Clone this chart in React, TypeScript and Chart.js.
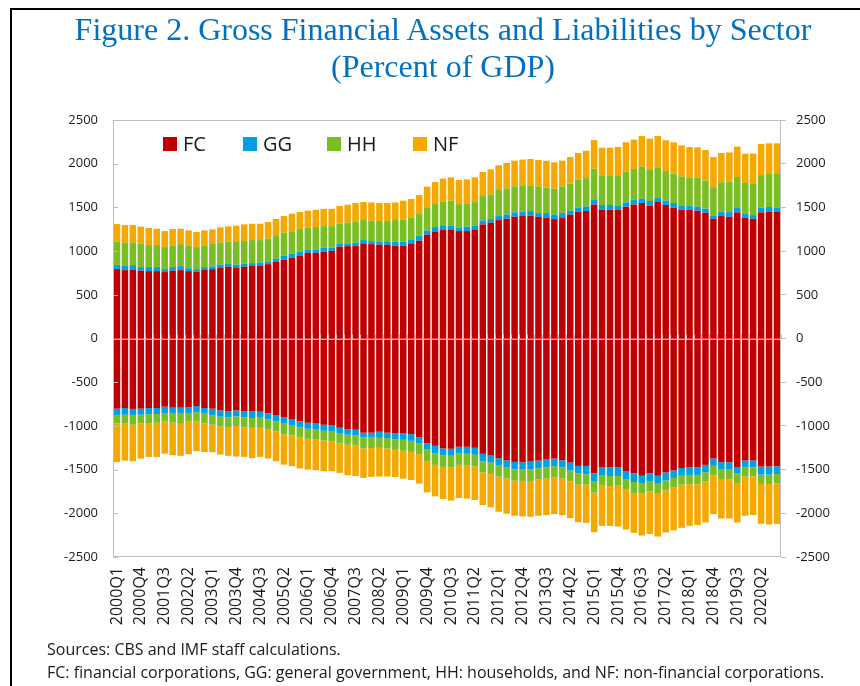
import React, { useEffect, useRef } from 'react';
import { Chart, registerables } from 'chart.js';

Chart.register(...registerables);

const quarters: string[] = [
  '2000Q1','2000Q2','2000Q3','2000Q4','2001Q1','2001Q2','2001Q3','2001Q4',
  '2002Q1','2002Q2','2002Q3','2002Q4','2003Q1','2003Q2','2003Q3','2003Q4',
  '2004Q1','2004Q2','2004Q3','2004Q4','2005Q1','2005Q2','2005Q3','2005Q4',
  '2006Q1','2006Q2','2006Q3','2006Q4','2007Q1','2007Q2','2007Q3','2007Q4',
  '2008Q1','2008Q2','2008Q3','2008Q4','2009Q1','2009Q2','2009Q3','2009Q4',
  '2010Q1','2010Q2','2010Q3','2010Q4','2011Q1','2011Q2','2011Q3','2011Q4',
  '2012Q1','2012Q2','2012Q3','2012Q4','2013Q1','2013Q2','2013Q3','2013Q4',
  '2014Q1','2014Q2','2014Q3','2014Q4','2015Q1','2015Q2','2015Q3','2015Q4',
  '2016Q1','2016Q2','2016Q3','2016Q4','2017Q1','2017Q2','2017Q3','2017Q4',
  '2018Q1','2018Q2','2018Q3','2018Q4','2019Q1','2019Q2','2019Q3','2019Q4',
  '2020Q1','2020Q2','2020Q3','2020Q4',
];

const tickLabels: string[] = [
  '2000Q1','2000Q4','2001Q3','2002Q2','2003Q1','2003Q4','2004Q3','2005Q2',
  '2006Q1','2006Q4','2007Q3','2008Q2','2009Q1','2009Q4','2010Q3','2011Q2',
  '2012Q1','2012Q4','2013Q3','2014Q2','2015Q1','2015Q4','2016Q3','2017Q2',
  '2018Q1','2018Q4','2019Q3','2020Q2',
];

const yTicks: number[] = [-2500, -2000, -1500, -1000, -500, 0, 500, 1000, 1500, 2000, 2500];

// Assets (positive)
const fcAssets: number[] = [
  794,782,790,775,771,771,760,775,782,771, 763,786,794,813,821,813,821,836,836,851,
  878,901,924,950,981,981,992,1004,1050,1057, 1057,1088,1080,1073,1073,1061,1061,1088,1118,1187,
  1225,1241,1248,1229,1229,1248,1305,1324,1355,1370, 1393,1401,1405,1393,1382,1366,1378,1416,1450,1458,
  1534,1477,1477,1470,1508,1534,1550,1523,1561,1527, 1500,1477,1473,1462,1439,1370,1401,1393,1443,1382,
  1370,1443,1454,1450,
];
const ggAssets: number[] = [
  46,50,50,42,46,46,34,42,46,34, 31,31,31,31,38,31,34,27,34,31,
  34,46,46,42,34,38,46,34,31,31, 38,38,34,34,31,46,46,46,57,46,
  50,46,46,42,50,46,46,42,46,46, 50,50,53,42,53,50,57,46,50,53,
  57,50,50,53,50,50,50,50,46,50, 50,46,42,46,46,38,50,53,50,42,
  42,53,50,50,
];
const hhAssets: number[] = [
  267,263,256,267,252,252,252,248,252,256, 252,248,256,252,248,260,260,263,256,260,
  260,263,256,260,252,256,248,248,233,237, 240,229,233,237,240,248,252,248,248,267,
  263,279,282,267,260,267,279,279,298,302, 298,294,294,302,290,298,302,309,317,324,
  351,332,332,336,351,355,366,355,344,340, 336,332,328,332,321,324,336,347,355,355,
  363,374,378,382,
];
const nfAssets: number[] = [
  202,202,202,195,195,187,183,187,176,176, 172,172,168,176,176,187,191,187,187,191,
  195,191,202,195,195,198,198,198,202,206, 215,206,210,206,206,202,218,214,218,237,
  252,263,267,275,282,282,275,290,282,290, 294,302,302,305,309,302,298,305,305,313,
  328,324,324,332,336,336,351,359,366,351, 359,355,347,347,351,344,336,336,347,336,
  340,355,351,351,
];

// Liabilities (negative)
const fcLiab: number[] = [
  -803,-795,-806,-803,-795,-795,-780,-791,-791,-787, -772,-795,-803,-822,-833,-822,-833,-833,-837,-856,
  -875,-902,-921,-948,-964,-967,-987,-994,-1021,-1036, -1044,-1078,-1078,-1067,-1078,-1082,-1086,-1094,-1128,-1197,
  -1228,-1258,-1262,-1239,-1239,-1251,-1320,-1339,-1370,-1393, -1412,-1416,-1408,-1396,-1381,-1373,-1393,-1419,-1458,-1458,
  -1542,-1469,-1477,-1477,-1515,-1546,-1569,-1542,-1569,-1534, -1511,-1481,-1477,-1477,-1446,-1373,-1416,-1416,-1469,-1396,
  -1396,-1465,-1465,-1462,
];
const ggLiab: number[] = [
  -73,-77,-77,-69,-73,-69,-73,-69,-69,-65, -73,-65,-73,-73,-69,-69,-69,-77,-69,-69,
  -73,-73,-69,-69,-69,-69,-69,-65,-61,-65, -61,-54,-57,-69,-61,-69,-73,-77,-69,-73,
  -84,-77,-80,-73,-80,-80,-84,-80,-84,-84, -84,-84,-88,-88,-92,-88,-84,-92,-84,-96,
  -96,-100,-96,-96,-100,-96,-92,-96,-92,-92, -84,-88,-84,-84,-84,-84,-84,-84,-73,-77,
  -77,-92,-92,-88,
];
const hhLiab: number[] = [
  -96,-96,-103,-100,-100,-100,-96,-103,-107,-100, -103,-111,-111,-111,-111,-111,-115,-111,-115,-111,
  -115,-123,-119,-115,-115,-115,-111,-119,-119,-115, -119,-126,-119,-115,-119,-123,-126,-126,-126,-134,
  -134,-134,-134,-134,-130,-134,-126,-130,-126,-126, -130,-130,-134,-130,-130,-130,-126,-126,-130,-119,
  -126,-115,-115,-111,-115,-126,-115,-111,-115,-111, -111,-103,-107,-107,-107,-111,-107,-111,-111,-107,
  -103,-107,-107,-107,
];
const nfLiab: number[] = [
  -441,-429,-418,-402,-387,-391,-368,-372,-375,-372, -341,-329,-314,-322,-329,-349,-337,-349,-333,-337,
  -341,-345,-352,-356,-352,-356,-352,-341,-337,-349, -349,-337,-329,-329,-322,-310,-318,-322,-337,-356,
  -360,-368,-379,-379,-383,-383,-375,-383,-402,-402, -402,-406,-410,-414,-418,-418,-418,-418,-429,-437,
  -452,-460,-456,-467,-456,-456,-479,-487,-490,-483, -490,-494,-475,-467,-467,-441,-452,-448,-452,-448,
  -444,-456,-464,-464,
];

const seriesNames: string[] = ['FC', 'GG', 'HH', 'NF'];
const seriesColors: string[] = ['#C00000', '#00A0E2', '#79BE22', '#F5A800'];

const AXIS_GRAY = '#BFBFBF';
const SANS = '"Open Sans", "Noto Sans", sans-serif';
const TICK_FONT = { family: SANS, size: 13 };

const overlayPlugin = {
  id: 'overlay',
  afterDatasetsDraw(chart: any) {
    const { ctx, chartArea: a, scales } = chart;
    const y = scales.y;
    const x = scales.x;
    ctx.save();
    ctx.strokeStyle = AXIS_GRAY;
    ctx.lineWidth = 1;
    // plot frame
    ctx.strokeRect(Math.round(a.left) + 0.5, Math.round(a.top) + 0.5, Math.round(a.width) - 1, Math.round(a.height) - 1);
    // zero line
    const y0 = Math.round(y.getPixelForValue(0)) + 0.5;
    ctx.beginPath();
    ctx.moveTo(a.left, y0);
    ctx.lineTo(a.right, y0);
    ctx.stroke();
    // category tick marks on zero line
    const n = chart.data.labels.length;
    const step = x.getPixelForValue(1) - x.getPixelForValue(0);
    ctx.beginPath();
    for (let i = 0; i <= n; i++) {
      const px = Math.round(i === n ? a.right : x.getPixelForValue(i) - step / 2) + 0.5;
      ctx.moveTo(px, y0);
      ctx.lineTo(px, y0 - 5);
    }
    ctx.stroke();
    // inward ticks on left axis
    ctx.beginPath();
    yTicks.forEach((v) => {
      const py = Math.round(y.getPixelForValue(v)) + 0.5;
      ctx.moveTo(a.left, py);
      ctx.lineTo(a.left + 5, py);
    });
    ctx.stroke();
    // legend
    const legendX = [50, 130, 214, 300];
    const legendY = a.top + 24;
    ctx.font = '20px ' + SANS;
    ctx.textBaseline = 'middle';
    ctx.textAlign = 'left';
    seriesNames.forEach((name, i) => {
      const bx = a.left + legendX[i];
      ctx.fillStyle = seriesColors[i];
      ctx.fillRect(bx, legendY - 7, 14, 14);
      ctx.fillStyle = '#1a1a1a';
      ctx.fillText(name, bx + 20, legendY + 1);
    });
    ctx.restore();
  },
};

export default function App() {
  const canvasRef = useRef<HTMLCanvasElement | null>(null);

  useEffect(() => {
    if (!canvasRef.current) return;
    const values = [fcAssets, ggAssets, hhAssets, nfAssets, fcLiab, ggLiab, hhLiab, nfLiab];
    const datasets = values.map((data, i) => ({
      label: seriesNames[i % 4] + (i < 4 ? ' assets' : ' liabilities'),
      data,
      backgroundColor: seriesColors[i % 4],
      borderWidth: 0,
      stack: 'all',
      barPercentage: 0.82,
      categoryPercentage: 1,
      yAxisID: 'y',
    }));

    const chart = new Chart(canvasRef.current, {
      type: 'bar',
      data: { labels: quarters, datasets },
      options: {
        responsive: false,
        animation: false,
        devicePixelRatio: 1,
        layout: { padding: { top: 120, left: 0, right: 0, bottom: 0 } },
        plugins: {
          legend: { display: false },
          title: { display: false },
          tooltip: { enabled: false },
        },
        scales: {
          x: {
            stacked: true,
            grid: { display: false },
            border: { display: false },
            ticks: {
              autoSkip: false,
              maxRotation: 90,
              minRotation: 90,
              padding: 2,
              color: '#1a1a1a',
              font: { family: SANS, size: 16 },
              callback: (_v: any, i: number) => (tickLabels.includes(quarters[i]) ? quarters[i] : ''),
            },
            afterFit: (s: any) => { s.height = 129; },
          },
          y: {
            stacked: true,
            position: 'left',
            min: -2500,
            max: 2500,
            grid: { display: false, drawTicks: false },
            border: { display: false },
            ticks: { stepSize: 500, padding: 15, color: '#1a1a1a', font: TICK_FONT, callback: (v: any) => String(v) },
            afterFit: (s: any) => { s.width = 113; },
          },
          y2: {
            position: 'right',
            min: -2500,
            max: 2500,
            grid: { drawOnChartArea: false, drawTicks: true, tickLength: 5, color: AXIS_GRAY },
            border: { display: false },
            ticks: { stepSize: 500, padding: 10, color: '#1a1a1a', font: TICK_FONT, callback: (v: any) => String(v) },
            afterFit: (s: any) => { s.width = 79; },
          },
        },
      },
      plugins: [overlayPlugin],
    } as any);

    return () => chart.destroy();
  }, []);

  return (
    <div style={{ position: 'absolute', left: 0, top: 0, width: 860, height: 686, overflow: 'hidden', background: '#fff' }}>
      <div style={{ position: 'absolute', left: 10, top: 8, width: 900, height: 700, borderLeft: '2px solid #000', borderTop: '2px solid #000' }} />
      <canvas ref={canvasRef} width={860} height={686} style={{ position: 'absolute', left: 0, top: 0, width: 860, height: 686 }} />
      <div style={{ position: 'absolute', left: 13, top: 11, width: 860, textAlign: 'center', fontFamily: '"Liberation Serif", "Times New Roman", serif', fontSize: 32, lineHeight: '37px', color: '#0070C0' }}>
        <div>Figure 2. Gross Financial Assets and Liabilities by Sector</div>
        <div>(Percent of GDP)</div>
      </div>
      <div style={{ position: 'absolute', left: 47, top: 638, fontFamily: SANS, fontSize: 16, lineHeight: '23px', color: '#1a1a1a', whiteSpace: 'nowrap' }}>
        <div>Sources: CBS and IMF staff calculations.</div>
        <div>FC: financial corporations, GG: general government, HH: households, and NF: non-financial corporations.</div>
      </div>
    </div>
  );
}
